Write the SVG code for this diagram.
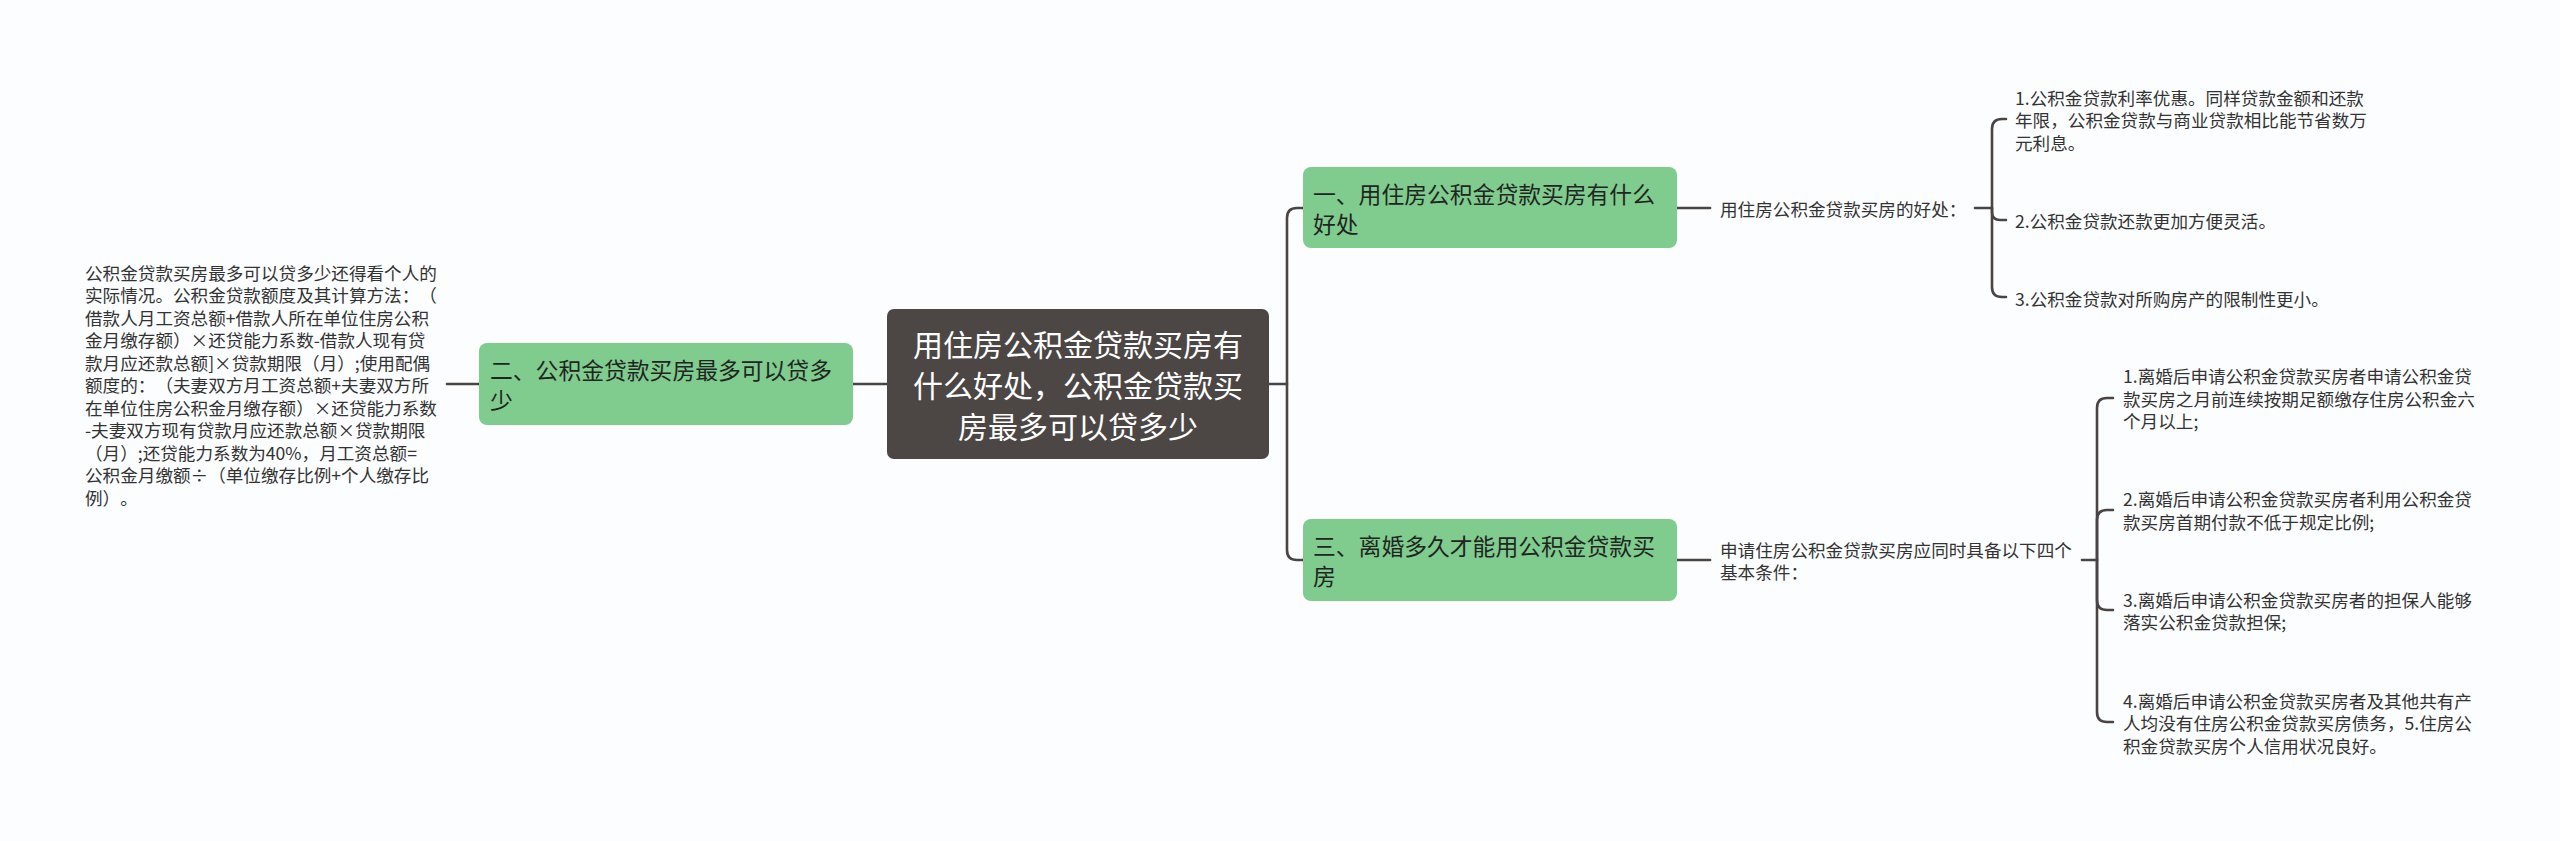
<svg xmlns="http://www.w3.org/2000/svg" width="2560" height="841" viewBox="0 0 2560 841">
<style>
text{font-family:"Noto Sans CJK SC","Noto Sans",sans-serif;dominant-baseline:central;text-spacing-trim:space-all;font-feature-settings:"chws" 0,"halt" 0,"palt" 0}
.bg{fill:#fbfdfe}
.root rect{fill:#4c4745}
.root text{fill:#ffffff;font-size:30px;text-anchor:middle}
.main rect{fill:#80cc8f}
.main text{fill:#1f261f;font-size:22.8px}
.leaf text{fill:#333333;font-size:17.6px}
.conn path{fill:none;stroke:#4a4543;stroke-width:2.6;stroke-linecap:round;stroke-linejoin:round}
</style>
<rect class="bg" x="0" y="0" width="2560" height="841"/>
<g id="connectors" class="conn">
<path d="M887 384 H853"/>
<path d="M479 384 H447"/>
<path d="M1269 384 H1287 V218 Q1287 208 1297 208 H1303"/>
<path d="M1287 384 V550 Q1287 560 1297 560 H1303"/>
<path d="M1677 208 H1710"/>
<path d="M1975 208 H1992 V129 Q1992 119 2002 119 H2006"/>
<path d="M1992 208 V212 Q1992 220 2000 220 H2006"/>
<path d="M1992 208 V287 Q1992 297 2002 297 H2006"/>
<path d="M1677 560 H1710"/>
<path d="M2082 560 H2097 V408 Q2097 398 2107 398 H2113"/>
<path d="M2097 560 V520 Q2097 510 2107 510 H2113"/>
<path d="M2097 560 V600 Q2097 610 2107 610 H2113"/>
<path d="M2097 560 V712 Q2097 722 2107 722 H2113"/>
</g>
<g id="root" class="root">
<rect x="887" y="309" width="382" height="150" rx="7"/>
<text x="1078" y="343">用住房公积金贷款买房有</text>
<text x="1078" y="384">什么好处，公积金贷款买</text>
<text x="1078" y="425">房最多可以贷多少</text>
</g>
<g id="n2" class="main">
<rect x="479" y="343" width="374" height="82" rx="8"/>
<text x="490" y="369">二、公积金贷款买房最多可以贷多</text>
<text x="490" y="399">少</text>
</g>
<g id="n2-detail" class="leaf">
<text x="85" y="272">公积金贷款买房最多可以贷多少还得看个人的</text>
<text x="85" y="294.5">实际情况。公积金贷款额度及其计算方法：（</text>
<text x="85" y="317">借款人月工资总额+借款人所在单位住房公积</text>
<text x="85" y="339.5">金月缴存额）×还贷能力系数-借款人现有贷</text>
<text x="85" y="362">款月应还款总额]×贷款期限（月）;使用配偶</text>
<text x="85" y="384.5">额度的：（夫妻双方月工资总额+夫妻双方所</text>
<text x="85" y="407">在单位住房公积金月缴存额）×还贷能力系数</text>
<text x="85" y="429.5">-夫妻双方现有贷款月应还款总额×贷款期限</text>
<text x="85" y="452">（月）;还贷能力系数为40%，月工资总额=</text>
<text x="85" y="474.5">公积金月缴额÷（单位缴存比例+个人缴存比</text>
<text x="85" y="497">例）。</text>
</g>
<g id="n1" class="main">
<rect x="1303" y="167" width="374" height="81" rx="8"/>
<text x="1313" y="193">一、用住房公积金贷款买房有什么</text>
<text x="1313" y="223">好处</text>
</g>
<g id="n1-sub" class="leaf">
<text x="1720" y="208">用住房公积金贷款买房的好处：</text>
</g>
<g id="n1-item1" class="leaf">
<text x="2015" y="97">1.公积金贷款利率优惠。同样贷款金额和还款</text>
<text x="2015" y="119.5">年限，公积金贷款与商业贷款相比能节省数万</text>
<text x="2015" y="142">元利息。</text>
</g>
<g id="n1-item2" class="leaf">
<text x="2015" y="220">2.公积金贷款还款更加方便灵活。</text>
</g>
<g id="n1-item3" class="leaf">
<text x="2015" y="298">3.公积金贷款对所购房产的限制性更小。</text>
</g>
<g id="n3" class="main">
<rect x="1303" y="519" width="374" height="82" rx="8"/>
<text x="1313" y="545">三、离婚多久才能用公积金贷款买</text>
<text x="1313" y="575">房</text>
</g>
<g id="n3-sub" class="leaf">
<text x="1720" y="549">申请住房公积金贷款买房应同时具备以下四个</text>
<text x="1720" y="571.5">基本条件：</text>
</g>
<g id="n3-item1" class="leaf">
<text x="2123" y="375.5">1.离婚后申请公积金贷款买房者申请公积金贷</text>
<text x="2123" y="398">款买房之月前连续按期足额缴存住房公积金六</text>
<text x="2123" y="420.5">个月以上;</text>
</g>
<g id="n3-item2" class="leaf">
<text x="2123" y="498.5">2.离婚后申请公积金贷款买房者利用公积金贷</text>
<text x="2123" y="521">款买房首期付款不低于规定比例;</text>
</g>
<g id="n3-item3" class="leaf">
<text x="2123" y="599">3.离婚后申请公积金贷款买房者的担保人能够</text>
<text x="2123" y="621.5">落实公积金贷款担保;</text>
</g>
<g id="n3-item4" class="leaf">
<text x="2123" y="700">4.离婚后申请公积金贷款买房者及其他共有产</text>
<text x="2123" y="722.5">人均没有住房公积金贷款买房债务，5.住房公</text>
<text x="2123" y="745">积金贷款买房个人信用状况良好。</text>
</g>
</svg>
